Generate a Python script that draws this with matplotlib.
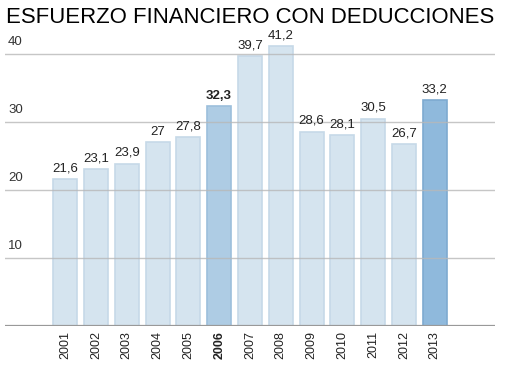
import matplotlib
matplotlib.use("Agg")
import matplotlib.pyplot as plt
import numpy as np

plt.rcParams['font.family'] = ['Liberation Sans', 'DejaVu Sans']

# ---- data -----------------------------------------------------------------
years = ["2001", "2002", "2003", "2004", "2005", "2006", "2007",
         "2008", "2009", "2010", "2011", "2012", "2013"]
values = [21.6, 23.1, 23.9, 27, 27.8, 32.3, 39.7, 41.2, 28.6, 28.1, 30.5, 26.7, 33.2]
labels = ["21,6", "23,1", "23,9", "27", "27,8", "32,3", "39,7",
          "41,2", "28,6", "28,1", "30,5", "26,7", "33,2"]
yticks = [10, 20, 30, 40]

# ---- styling --------------------------------------------------------------
colors = ["#d5e4ef"] * len(years)
edges = ["#c6d9e8"] * len(years)
colors[5], edges[5] = "#aecce4", "#9cbfdc"
colors[12], edges[12] = "#8fb9dc", "#7eaad0"

fig = plt.figure(figsize=(5.13, 3.68), dpi=100)
ax = fig.add_axes([0.01, 0.114, 0.955, 0.813])

x = np.arange(len(years))
ax.bar(x, values, width=0.78, color=colors, edgecolor=edges, linewidth=1.2, zorder=2)

for t in yticks:
    ax.axhline(t, color="#b8b8b8", lw=1.0, alpha=0.8, zorder=3)
    ax.text(0.006, t + 0.9, str(t), transform=ax.get_yaxis_transform(),
            fontsize=9.5, color="#333333", ha="left", va="bottom")
ax.axhline(0, color="#999999", lw=1.6, zorder=4)

for xi, v, lab, yr in zip(x, values, labels, years):
    bold = yr == "2006"
    ax.text(xi, v + 0.7, lab, ha="center", va="bottom", fontsize=9.5,
            color="#222222", fontweight="bold" if bold else "normal")
    ax.text(xi, -0.7, yr, ha="center", va="top", rotation=90, fontsize=9,
            color="#222222", fontweight="bold" if bold else "normal")

ax.set_xlim(-1.95, 13.96)
ax.set_ylim(0, 44)
ax.axis("off")

fig.text(0.012, 0.982, "ESFUERZO FINANCIERO CON DEDUCCIONES", fontsize=15.9,
         ha="left", va="top", color="#000000")

fig.savefig("out.png", dpi=100)
